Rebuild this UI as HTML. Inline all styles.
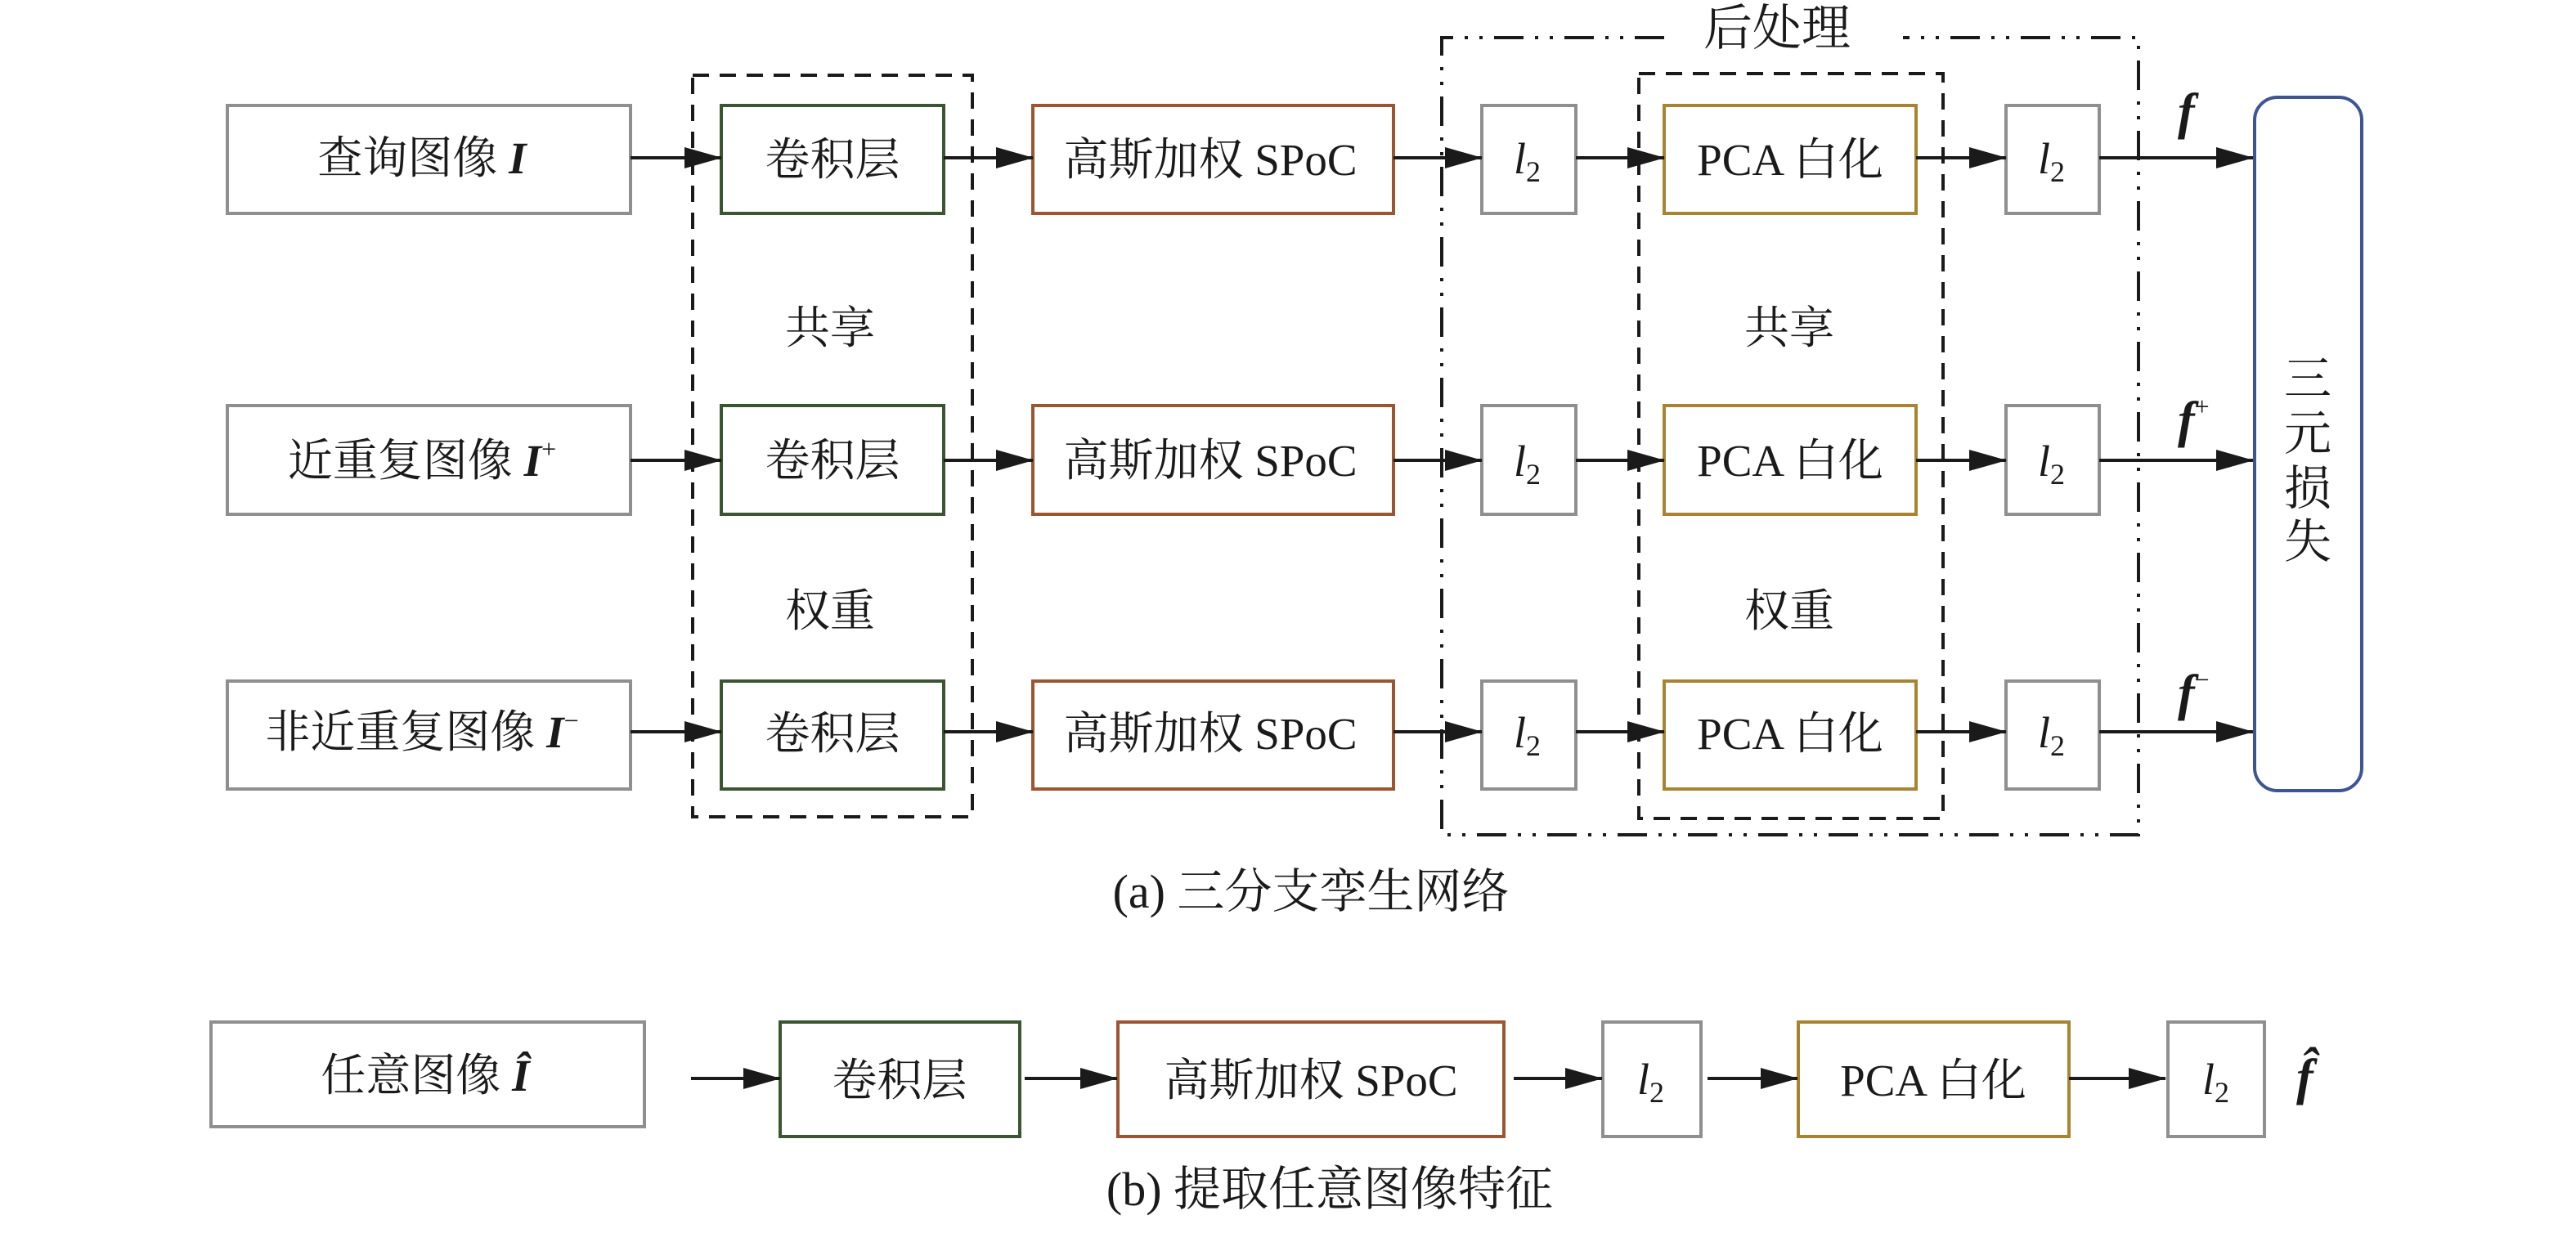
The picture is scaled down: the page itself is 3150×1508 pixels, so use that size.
<!DOCTYPE html>
<html><head><meta charset="utf-8"><style>
html,body{margin:0;padding:0;background:#fff;}
svg{display:block;}
text{font-family:"Liberation Serif","Noto Serif CJK SC","Noto Sans CJK SC",serif;fill:#1a1a1a;}
</style></head><body>
<svg width="3150" height="1508" viewBox="0 0 3150 1508" xmlns="http://www.w3.org/2000/svg">
<defs>
<marker id="ah" markerWidth="46" markerHeight="26" refX="45" refY="13" markerUnits="userSpaceOnUse" orient="auto">
<path d="M0,0 L46,13 L0,26 Z" fill="#1a1a1a"/>
</marker>
</defs>
<g fill="none" stroke-width="4">
<rect x="847" y="92" width="342" height="907" stroke="#1a1a1a" stroke-dasharray="20 13"/>
<rect x="2004" y="90" width="372" height="911" stroke="#1a1a1a" stroke-dasharray="20 13"/>
<path d="M2035,46 L1763,46 L1763,1021 L2615,1021 L2615,46 L2327,46" stroke="#1a1a1a" stroke-dasharray="36 14 4 14 4 14"/>
</g>
<text x="2173" y="55" font-size="60" text-anchor="middle">后处理</text>

<g fill="#fff" stroke-width="4">
<rect x="278" y="129" width="493" height="132" stroke="#8f8f8f"/>
<rect x="278" y="496" width="493" height="133" stroke="#8f8f8f"/>
<rect x="278" y="833" width="493" height="132" stroke="#8f8f8f"/>
<rect x="882" y="129" width="272" height="132" stroke="#3a5530"/>
<rect x="882" y="496" width="272" height="133" stroke="#3a5530"/>
<rect x="882" y="833" width="272" height="132" stroke="#3a5530"/>
<rect x="1263" y="129" width="441" height="132" stroke="#9b5530"/>
<rect x="1263" y="496" width="441" height="133" stroke="#9b5530"/>
<rect x="1263" y="833" width="441" height="132" stroke="#9b5530"/>
<rect x="1812" y="129" width="115" height="132" stroke="#8f8f8f"/>
<rect x="1812" y="496" width="115" height="133" stroke="#8f8f8f"/>
<rect x="1812" y="833" width="115" height="132" stroke="#8f8f8f"/>
<rect x="2035" y="129" width="308" height="132" stroke="#a88432"/>
<rect x="2035" y="496" width="308" height="133" stroke="#a88432"/>
<rect x="2035" y="833" width="308" height="132" stroke="#a88432"/>
<rect x="2453" y="129" width="114" height="132" stroke="#8f8f8f"/>
<rect x="2453" y="496" width="114" height="133" stroke="#8f8f8f"/>
<rect x="2453" y="833" width="114" height="132" stroke="#8f8f8f"/>
<rect x="2757" y="119" width="131" height="848" rx="28" ry="28" stroke="#3d5593"/>
</g>

<g stroke="#1a1a1a" stroke-width="4" marker-end="url(#ah)">
<line x1="771" y1="193" x2="882" y2="193"/><line x1="1154" y1="193" x2="1263" y2="193"/>
<line x1="1704" y1="193" x2="1812" y2="193"/><line x1="1927" y1="193" x2="2035" y2="193"/>
<line x1="2343" y1="193" x2="2453" y2="193"/><line x1="2567" y1="193" x2="2755" y2="193"/>
<line x1="771" y1="563" x2="882" y2="563"/><line x1="1154" y1="563" x2="1263" y2="563"/>
<line x1="1704" y1="563" x2="1812" y2="563"/><line x1="1927" y1="563" x2="2035" y2="563"/>
<line x1="2343" y1="563" x2="2453" y2="563"/><line x1="2567" y1="563" x2="2755" y2="563"/>
<line x1="771" y1="895" x2="882" y2="895"/><line x1="1154" y1="895" x2="1263" y2="895"/>
<line x1="1704" y1="895" x2="1812" y2="895"/><line x1="1927" y1="895" x2="2035" y2="895"/>
<line x1="2343" y1="895" x2="2453" y2="895"/><line x1="2567" y1="895" x2="2755" y2="895"/>
</g>

<g font-size="55" text-anchor="middle">
<text x="516" y="212">查询图像 <tspan font-weight="bold" font-style="italic">I</tspan></text>
<text x="516" y="582">近重复图像 <tspan font-weight="bold" font-style="italic">I</tspan><tspan font-size="32" dy="-22">+</tspan></text>
<text x="516" y="914">非近重复图像 <tspan font-weight="bold" font-style="italic">I</tspan><tspan font-size="32" dy="-22">−</tspan></text>
<text x="1018" y="214">卷积层</text><text x="1018" y="582">卷积层</text><text x="1018" y="916">卷积层</text>
<text x="1480" y="214">高斯加权 SPoC</text><text x="1480" y="582">高斯加权 SPoC</text><text x="1480" y="916">高斯加权 SPoC</text>
<text x="2189" y="214">PCA 白化</text><text x="2189" y="582">PCA 白化</text><text x="2189" y="916">PCA 白化</text>
<text x="1015" y="420">共享</text><text x="1015" y="766">权重</text>
<text x="2188" y="420">共享</text><text x="2188" y="766">权重</text>
</g>
<g font-size="58" text-anchor="middle">
<text x="2822" y="483">三</text><text x="2822" y="550">元</text><text x="2822" y="617">损</text><text x="2822" y="682">失</text>
</g>
<g font-size="54">
<text x="1851" y="212" font-style="italic">l<tspan font-style="normal" font-size="36" dy="10">2</tspan></text>
<text x="1851" y="582" font-style="italic">l<tspan font-style="normal" font-size="36" dy="10">2</tspan></text>
<text x="1851" y="914" font-style="italic">l<tspan font-style="normal" font-size="36" dy="10">2</tspan></text>
<text x="2492" y="212" font-style="italic">l<tspan font-style="normal" font-size="36" dy="10">2</tspan></text>
<text x="2492" y="582" font-style="italic">l<tspan font-style="normal" font-size="36" dy="10">2</tspan></text>
<text x="2492" y="914" font-style="italic">l<tspan font-style="normal" font-size="36" dy="10">2</tspan></text>
<text x="2663" y="157" font-style="italic" font-weight="bold" font-size="62">f</text>
<text x="2663" y="534" font-style="italic" font-weight="bold" font-size="62">f<tspan font-size="32" font-weight="normal" font-style="normal" dy="-26">+</tspan></text>
<text x="2663" y="868" font-style="italic" font-weight="bold" font-size="62">f<tspan font-size="32" font-weight="normal" font-style="normal" dy="-26">−</tspan></text>
</g>
<text x="1603" y="1110" font-size="58" text-anchor="middle">(a) 三分支孪生网络</text>

<g fill="#fff" stroke-width="4">
<rect x="258" y="1250" width="530" height="128" stroke="#8f8f8f"/>
<rect x="954" y="1250" width="293" height="140" stroke="#3a5530"/>
<rect x="1367" y="1250" width="472" height="140" stroke="#9b5530"/>
<rect x="1960" y="1250" width="120" height="140" stroke="#8f8f8f"/>
<rect x="2199" y="1250" width="331" height="140" stroke="#a88432"/>
<rect x="2651" y="1250" width="118" height="140" stroke="#8f8f8f"/>
</g>
<g stroke="#1a1a1a" stroke-width="4" marker-end="url(#ah)">
<line x1="845" y1="1319" x2="954" y2="1319"/>
<line x1="1253" y1="1319" x2="1366" y2="1319"/>
<line x1="1851" y1="1319" x2="1959" y2="1319"/>
<line x1="2088" y1="1319" x2="2198" y2="1319"/>
<line x1="2530" y1="1319" x2="2648" y2="1319"/>
</g>
<g font-size="55" text-anchor="middle">
<text x="520" y="1334">任意图像 <tspan font-weight="bold" font-style="italic">Î</tspan></text>
<text x="1100" y="1340">卷积层</text>
<text x="1603" y="1340">高斯加权 SPoC</text>
<text x="2364" y="1340">PCA 白化</text>
</g>
<text x="1626" y="1474" font-size="58" text-anchor="middle">(b) 提取任意图像特征</text>
<g font-size="54">
<text x="2002" y="1338" font-style="italic">l<tspan font-style="normal" font-size="36" dy="10">2</tspan></text>
<text x="2693" y="1338" font-style="italic">l<tspan font-style="normal" font-size="36" dy="10">2</tspan></text>
<text x="2808" y="1338" font-style="italic" font-weight="bold" font-size="62">f̂</text>
</g>
</svg>
</body></html>
